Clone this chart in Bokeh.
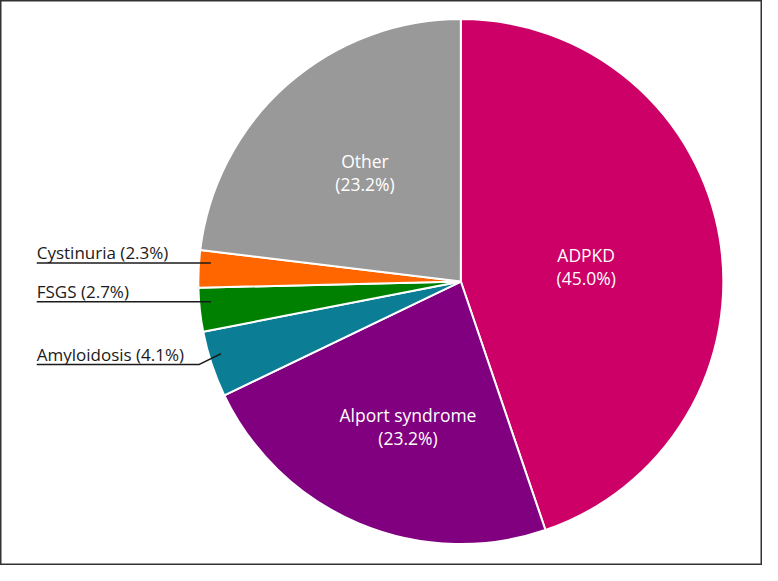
import math
from bokeh.plotting import figure
from bokeh.models import Range1d, ColumnDataSource
from bokeh.core.properties import value
from bokeh.embed import file_html
from bokeh.resources import INLINE

# ---- data ----
categories = ["ADPKD", "Alport syndrome", "Amyloidosis", "FSGS", "Cystinuria", "Other"]
percents = [45.0, 23.2, 4.1, 2.7, 2.3, 23.2]
colors = ["#CC0066", "#800080", "#0B7E96", "#008000", "#FF6600", "#999999"]
inside = [True, True, False, False, False, True]

# ---- layout (data space = 778 x 581 reference units, y up) ----
W, H = 762, 565
XR, YR = 778, 581
cx, cy, R = 470, 292, 268
label_r = [0.481, 0.593, 0.955, 0.955, 0.955, 0.555]
label_shift = [2.5, -2.9, 1.5, 1.5, 1.5, 0.4]   # degrees, clockwise-negative adjustments
elbow_drop = [0, 0, 11, 0, 0, 0]
half_gap = 11.75
text_x = 37
elbow_x = 203
FONT = value("Open Sans")

total = sum(percents)
starts, ends, mids = [], [], []
cum = 0.0
for pc in percents:
    a_end = math.pi / 2 - cum / total * 2 * math.pi
    cum += pc
    a_start = math.pi / 2 - cum / total * 2 * math.pi
    starts.append(a_start)
    ends.append(a_end)
    mids.append((a_start + a_end) / 2)

p = figure(width=W, height=H, output_backend="svg", toolbar_location=None,
           x_range=Range1d(0, XR), y_range=Range1d(0, YR), min_border=0)
p.axis.visible = False
p.grid.visible = False
p.outline_line_color = "#333333"
p.outline_line_width = 2
p.background_fill_color = "white"
p.border_fill_color = "white"

src = ColumnDataSource(dict(start=starts, end=ends, color=colors))
p.wedge(x=cx, y=cy, radius=R, start_angle="start", end_angle="end",
        direction="anticlock", fill_color="color", line_color="white",
        line_width=2, source=src)

t1x, t1y, t1 = [], [], []
t2x, t2y, t2 = [], [], []
out_x, out_y, out_t = [], [], []
lx, ly = [], []
for i, cat in enumerate(categories):
    m = mids[i] - math.radians(label_shift[i])
    rr = label_r[i] * R
    px = cx + rr * math.cos(m)
    py = cy + rr * math.sin(m)
    if inside[i]:
        t1x.append(px); t1y.append(py + half_gap); t1.append(cat)
        t2x.append(px); t2y.append(py - half_gap); t2.append(f"({percents[i]:.1f}%)")
    else:
        ey = py - elbow_drop[i]
        ex = elbow_x if elbow_drop[i] else px
        lx.append([px, ex, text_x])
        ly.append([py, ey, ey])
        out_x.append(text_x)
        out_y.append(ey + 10.5)
        out_t.append(f"{cat} ({percents[i]:.1f}%)")

for xs, ys, ts in ((t1x, t1y, t1), (t2x, t2y, t2)):
    p.text(x=xs, y=ys, text=ts, text_color="white", text_font=FONT,
           text_font_size="17.5px", text_align="center", text_baseline="middle")
p.multi_line(xs=lx, ys=ly, line_color="#1a1a1a", line_width=1.5)
p.text(x=out_x, y=out_y, text=out_t, text_color="#1a1a1a", text_font=FONT,
       text_font_size="17px", text_align="left", text_baseline="alphabetic")

open("out.html", "w").write(file_html(p, INLINE))
